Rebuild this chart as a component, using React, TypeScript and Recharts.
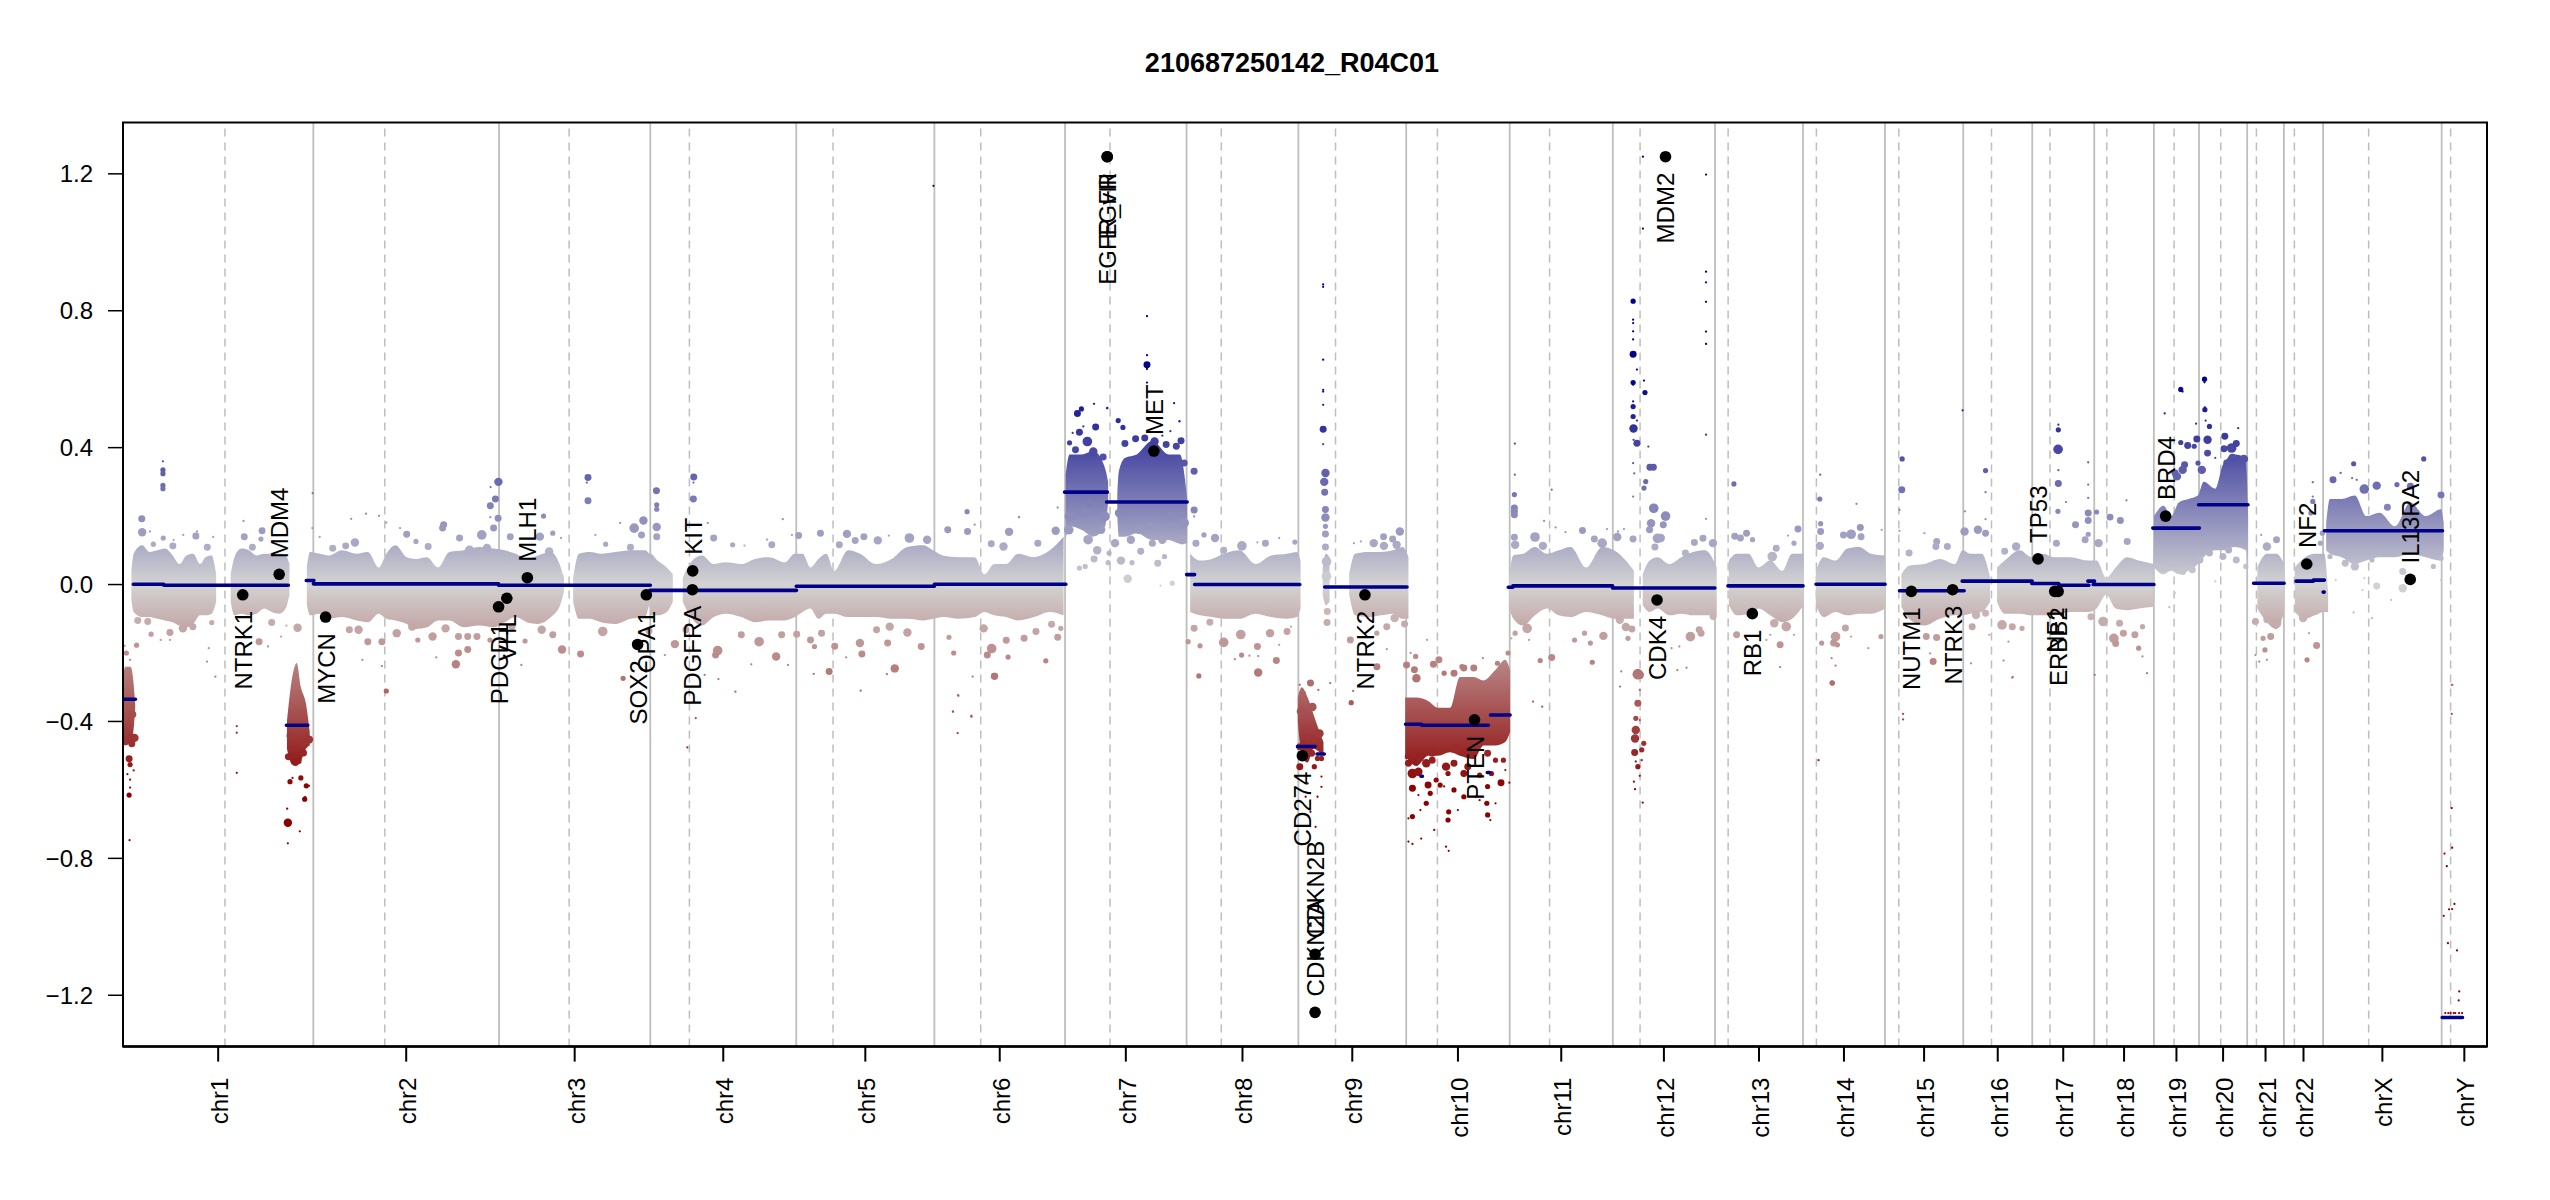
import React from "react";
import {
  ComposedChart,
  Area,
  Line,
  Scatter,
  XAxis,
  YAxis,
  ZAxis,
  ReferenceLine,
  ReferenceArea,
} from "recharts";

const FONT = '"Liberation Sans", Arial, sans-serif';

const title = "210687250142_R04C01";
const yTicks = [-1.2, -0.8, -0.4, 0, 0.4, 0.8, 1.2];

const chrNames = ["chr1","chr2","chr3","chr4","chr5","chr6","chr7","chr8","chr9","chr10","chr11","chr12","chr13","chr14","chr15","chr16","chr17","chr18","chr19","chr20","chr21","chr22","chrX","chrY"];
// chromosome sizes and centromeres, Mb, genome coordinates
const chrLengths = [249.25,243.2,198.02,191.13,180.92,171.11,159.14,146.36,141.21,135.53,135.01,133.85,115.17,107.35,102.53,90.35,81.2,78.08,59.13,63.03,48.13,51.3,155.27,59.37];
const centromeres = [133.5,342.8,584.2,741.7,929.8,1123.2,1292.5,1438.2,1587.8,1721.2,1868.1,1986.6,2101.9,2217.5,2325.4,2446.8,2523.4,2597.8,2685.9,2747,2793.7,2843.4,2940.7,3048];

const geneNames = ["NTRK1","MDM4","MYCN","PDCD1","VHL","MLH1","SOX2","OPA1","PDGFRA","KIT","EGFR","EGFR_vIII","MET","CD274","CDKN2A","CDKN2B","NTRK2","PTEN","CDK4","MDM2","RB1","NUTM1","NTRK3","TP53","NF1","ERBB2","BRD4","NF2","IL13RA2"];
const genePos = [156.8,204.5,265.3,491.8,502.6,529.5,673.9,685.3,745.6,746,1288.8,1288.8,1349.9,1544.4,1561,1561,1626.3,1769.8,2008.8,2019.9,2133.6,2341.8,2395.9,2507.7,2529.6,2534,2674.8,2859.6,2995.1];
const geneLrr = [-0.03,0.03,-0.095,-0.065,-0.04,0.02,-0.175,-0.03,-0.015,0.04,1.25,1.25,0.39,-0.5,-1.25,-1.08,-0.03,-0.395,-0.045,1.25,-0.085,-0.02,-0.015,0.075,-0.02,-0.02,0.2,0.06,0.015];

// segments: start, end, mean log2 ratio
const segments = [
  [0,16.4,-0.335],[13.5,53.4,0.001],[53.4,216.5,-0.002],[214,242,-0.411],[240,250,0.012],
  [249.3,491.8,0.002],[491.8,690.5,-0.002],[690,882,-0.017],[881.6,1062.5,-0.005],[1062.5,1234.7,0.001],
  [1233,1289,0.27],[1288,1393.5,0.241],[1392.8,1403.3,0.029],[1403.3,1541,0],
  [1538,1561,-0.473],[1563.6,1573,-0.495],[1573.6,1681.4,-0.007],
  [1679.5,1700.6,-0.408],[1700.6,1788,-0.411],[1790.7,1816.4,-0.381],[1699.6,1701.6,-0.56],[1786.5,1789.5,-0.549],
  [1814,1820,-0.008],[1820,1950.6,-0.004],[1950.6,2084.6,-0.01],[2101.7,2200,-0.004],[2217,2307.5,0.001],
  [2326.3,2411,-0.018],[2408.4,2500,0.01],[2499.6,2534.8,0.003],[2534.8,2574.4,-0.002],[2573,2581.7,0.01],[2580,2659.5,0],
  [2658,2719,0.165],[2718,2782.6,0.233],[2790,2830,0.004],[2845.6,2868.3,0.01],[2868.3,2882.7,0.013],[2881,2882.5,-0.022],
  [2882.7,3037.4,0.157],[3037,3063.6,-1.265],
];

// dense part of the probe cloud: position, lower edge, upper edge; null = no probes
const cloudChr1to3 = [
  [0,-0.43,-0.27],[3,-0.47,-0.24],[6,-0.45,-0.24],[10,-0.46,-0.24],[13,-0.44,-0.27],[16,-0.36,-0.35],null,
  [11,-0.045,0.04],[14,-0.08,0.09],[25,-0.095,0.115],[35,-0.095,0.095],[45,-0.1,0.1],[55,-0.105,0.105],[65,-0.11,0.085],[74,-0.12,0.06],[83,-0.125,0.085],[92,-0.115,0.09],[101,-0.09,0.06],[108,-0.09,0.08],[116,-0.085,0.085],[122,-0.05,0.03],null,
  [141,-0.05,0.03],[146,-0.09,0.08],[155,-0.085,0.105],[165,-0.09,0.1],[175,-0.085,0.085],[185,-0.07,0.09],[195,-0.08,0.09],[205,-0.085,0.09],[213,-0.07,0.085],[218,-0.03,0.06],null,
  [214.7,-0.48,-0.4],[221.8,-0.526,-0.268],[227.5,-0.526,-0.229],[233,-0.515,-0.3],[239.5,-0.48,-0.347],[244.5,-0.47,-0.43],null,
  [240.7,-0.06,0.05],[245,-0.09,0.095],[257.6,-0.085,0.09],[269.8,-0.1,0.085],[286.7,-0.095,0.1],[306,-0.105,0.09],[320.6,-0.11,0.095],[335,-0.085,0.05],[344.8,-0.1,0.09],[357,-0.105,0.115],[371.5,-0.115,0.08],[383.6,-0.13,0.075],[398,-0.125,0.08],[412.7,-0.105,0.05],[427.2,-0.105,0.095],[446.6,-0.125,0.1],[466,-0.12,0.11],[485.3,-0.125,0.105],
  [499.9,-0.11,0.1],[514.4,-0.095,0.09],[529,-0.11,0.075],[543.4,-0.115,0.085],[560.4,-0.095,0.095],[572.5,-0.06,0.055],[577.4,-0.02,0.02],null,
  [589.5,-0.05,0.02],[597,-0.1,0.09],[611.3,-0.1,0.095],[626,-0.11,0.09],[645,-0.115,0.095],[664.5,-0.1,0.1],[683.9,-0.095,0.1],[690,-0.06,0.09],
];
const cloudChr4to8 = [
  [691,-0.09,0.09],[700,-0.09,0.07],[712,-0.08,0.05],[720,-0.05,0.03],null,
  [733,-0.05,0.02],[742,-0.09,0.06],[758,-0.12,0.085],[773.5,-0.095,0.06],[789,-0.085,0.065],[809.7,-0.095,0.06],[827.8,-0.11,0.075],[846,-0.105,0.08],[866.7,-0.105,0.065],[879.6,-0.095,0.09],[890,-0.08,0.09],[900,-0.07,0.05],[910.7,-0.1,0.075],[921,-0.085,0.09],[931.4,-0.085,0.04],[949.5,-0.095,0.1],[965,-0.095,0.09],[985.8,-0.095,0.06],[1006.5,-0.1,0.075],[1027,-0.1,0.11],[1048,-0.105,0.115],[1060.8,-0.1,0.1],[1073.8,-0.095,0.085],[1094.5,-0.1,0.08],[1115.2,-0.095,0.08],[1128,-0.08,0.03],[1141,-0.09,0.06],[1156.6,-0.095,0.06],[1172,-0.105,0.09],[1192.9,-0.095,0.08],[1213.6,-0.08,0.1],[1231.7,-0.09,0.14],null,
  [1234.3,0.13,0.32],[1239.5,0.17,0.38],[1255,0.16,0.38],[1270.6,0.14,0.39],[1286,0.17,0.34],[1290,0.24,0.3],null,
  [1302,0.2,0.26],[1304,0.14,0.33],[1312,0.14,0.37],[1327.5,0.15,0.38],[1348,0.13,0.42],[1369,0.13,0.38],[1384,0.12,0.38],[1393.5,0.12,0.25],null,
  [1397.4,-0.08,0.09],[1410.4,-0.09,0.07],[1425.9,-0.095,0.075],[1441.4,-0.1,0.09],[1462,-0.1,0.1],[1482.9,-0.085,0.06],[1503.6,-0.095,0.085],[1524.3,-0.1,0.09],[1537,-0.095,0.095],[1542,-0.07,0.07],null,
];
const cloudChr9to14 = [
  [1538.4,-0.4,-0.33],[1543.5,-0.5,-0.3],[1551.3,-0.52,-0.33],[1559,-0.48,-0.38],[1566.8,-0.49,-0.43],[1572,-0.5,-0.46],null,
  [1571,-0.03,0.05],[1575,-0.06,0.09],[1580,-0.05,0.08],null,
  [1605.7,-0.03,0.03],[1613.4,-0.09,0.09],[1631.6,-0.095,0.095],[1647,-0.09,0.095],[1662.6,-0.085,0.1],[1675.6,-0.1,0.11],[1683.3,-0.1,0.08],null,
  [1679,-0.5,-0.33],[1693.7,-0.53,-0.33],[1709,-0.5,-0.34],[1722,-0.5,-0.36],[1737.7,-0.49,-0.36],[1750.7,-0.5,-0.27],[1768.8,-0.51,-0.27],[1781.7,-0.47,-0.28],[1797,-0.47,-0.25],[1810,-0.46,-0.22],[1816.4,-0.43,-0.25],null,
  [1815.4,-0.07,0.03],[1820.6,-0.1,0.085],[1833.5,-0.12,0.09],[1849,-0.09,0.11],[1864.6,-0.07,0.09],[1880,-0.09,0.1],[1895.6,-0.095,0.11],[1916,-0.08,0.05],[1937,-0.09,0.11],[1952.6,-0.1,0.1],[1968,-0.1,0.07],[1978.5,-0.1,0.04],null,
  [1990,-0.06,0.03],[1999,-0.08,0.07],[2009.5,-0.07,0.08],[2025,-0.09,0.06],[2040.6,-0.085,0.08],[2056,-0.09,0.095],[2071.7,-0.09,0.1],[2087,-0.09,0.05],null,
  [2102.8,-0.06,0.07],[2113,-0.09,0.09],[2128.7,-0.085,0.09],[2141.6,-0.07,0.05],[2157,-0.09,0.07],[2172.7,-0.11,0.04],[2185.6,-0.1,0.09],[2201,-0.06,0.09],null,
  [2216.7,-0.06,0.04],[2227,-0.095,0.08],[2242.6,-0.08,0.07],[2258,-0.09,0.105],[2273.6,-0.085,0.11],[2289,-0.085,0.09],[2307.3,-0.07,0.085],null,
];
const cloudChr15toX = [
  [2328.8,-0.065,0.03],[2338.9,-0.1,0.055],[2358.9,-0.12,0.06],[2379,-0.1,0.075],[2399,-0.09,0.06],[2409,-0.09,0.1],[2419,-0.085,0.09],[2434,-0.08,0.09],[2445,-0.05,0.02],null,
  [2454,-0.05,0.05],[2464,-0.085,0.07],[2484,-0.085,0.1],[2499,-0.09,0.08],[2514,-0.09,0.09],[2529,-0.09,0.08],[2549.3,-0.08,0.08],[2574.4,-0.08,0.07],[2584.4,-0.07,0.07],[2597,-0.03,0.02],[2609.4,-0.07,0.05],[2624.5,-0.075,0.08],[2639.5,-0.07,0.07],[2659,-0.065,0.06],null,
  [2659.6,0.05,0.2],[2672,0.03,0.23],[2682,0.04,0.2],[2692,0.03,0.24],[2704.7,0.04,0.25],[2717,0.06,0.26],[2724.7,0.08,0.3],[2739.8,0.1,0.28],[2749.8,0.1,0.35],[2764.8,0.11,0.38],[2779.8,0.1,0.37],[2782.8,0.06,0.2],null,
  [2794.9,-0.07,0.05],[2807.4,-0.11,0.09],[2820,-0.13,0.09],[2830,-0.08,0.06],null,
  [2844,-0.08,0.05],[2857.5,-0.1,0.08],[2870,-0.09,0.09],[2882.5,-0.08,0.09],[2887.6,-0.08,-0.02],null,
  [2885,0.1,0.18],[2890,0.09,0.25],[2905,0.08,0.25],[2922.6,0.06,0.26],[2937.6,0.07,0.2],[2955,0.08,0.21],[2975,0.08,0.17],[2995.3,0.09,0.24],[3015.3,0.08,0.2],[3035.4,0.07,0.22],[3039,0.1,0.18],
];

// single probe bins outside the dense part: position, log2 ratio, bin weight
const probesChr1to3 = [
  [52.3,0.36,1],[52.3,0.335,1.5],[52.3,0.324,1.5],[52.3,0.29,1.5],[52.3,0.28,1.5],[24.6,0.192,2],[25.1,0.153,2.5],[35.3,0.155,1],[52.7,0.136,1.5],[39.7,0.118,1.5],[65.3,0.113,2],[66.3,0.13,1],[78.9,0.145,1],[95.4,0.142,2],[96.8,0.155,1],[110.4,0.109,2],[118.1,0.139,1],[157.9,0.186,1],[158.8,0.14,2],[169.5,0.109,2],[182.1,0.157,2],[180.6,0.133,1.5],
  [19.3,-0.105,2],[32.4,-0.108,2],[36.8,-0.145,1.5],[61.5,-0.14,2],[78.4,-0.128,2.5],[91.5,-0.123,2],[116.2,-0.111,1.5],[49.4,-0.162,1],[61.5,-0.162,1],[110,-0.225,1],[121,-0.269,1],[112.3,-0.186,1],[149,-0.414,1],[149,-0.433,1],[149,-0.55,1],[178.2,-0.167,2],[194.7,-0.111,2],[189.8,-0.181,1],[228.6,-0.126,2.5],[214,-0.12,1],[207,-0.152,1],
  [2.2,-0.179,1],[17.8,-0.177,1.5],[4.4,-0.2,1.5],[9.3,-0.22,1],[15,-0.448,2.5],[9.3,-0.448,2.5],[11.5,-0.465,2],[8,-0.509,2],[9.3,-0.526,1.5],[5.8,-0.554,1],[9.3,-0.57,1],[9.3,-0.593,1],[8,-0.615,1.5],[14,-0.543,1],[8.6,-0.747,1],[3.6,-0.459,2],[12.9,-0.38,2],
  [215.9,-0.696,2.5],[215,-0.655,1],[231.5,-0.721,1],[215.9,-0.756,1],[240,-0.588,1.5],[237.9,-0.627,1.5],[238.6,-0.621,1],[243.5,-0.588,1],[218.7,-0.576,1.5],[232.9,-0.565,1.5],[222,-0.565,1],[225.8,-0.52,2],[229.4,-0.515,2],[236.4,-0.492,2],[216.6,-0.503,2],[222,-0.481,2],[243.5,-0.453,2.5],[236.4,-0.459,2],[218.7,-0.442,2],
  [248.4,0.267,1],[257.6,0.139,1],[248,0.165,1],[274.6,0.106,2],[291.6,0.113,2],[303.7,0.123,2.5],[298.8,0.192,1],[318.2,0.207,1],[335.2,0.201,1],[344.8,0.181,1],[371.5,0.147,2],[362.8,0.165,1],[383.6,0.126,1.5],[399.6,0.111,2],[419.9,0.175,2],[418.5,0.165,2],[440.7,0.136,2],[453.8,0.1,3],[469.8,0.145,3],[491.6,0.3,2.5],[481.4,0.285,1],[487.7,0.25,2],[481,0.23,2],[481,0.197,1],[491.2,0.194,2],[485.3,0.165,2],[476.6,0.107,2.5],
  [507.1,0.14,2],[550.7,0.2,1.5],[545.9,0.14,2.5],[562.8,0.15,1.5],[573.5,0.136,1],[558,0.097,2.5],[608.9,0.313,2],[607.4,0.298,1],[608.9,0.245,2],[669.4,0.165,3],[681.5,0.187,2.5],[679,0.145,2],[664.5,0.109,2],[651,0.18,1],[632,0.118,1.5],[618.5,0.145,1],
  [296.4,-0.132,2],[308.5,-0.132,2.5],[320.6,-0.167,2],[339,-0.167,2],[313.4,-0.22,1],[339,-0.238,1],[344.8,-0.311,1.5],[358.4,-0.142,2.5],[378.7,-0.123,2.5],[386,-0.162,1.5],[405.4,-0.152,2.5],[422.4,-0.128,2.5],[439.3,-0.152,2],[451.4,-0.152,2],[439.3,-0.2,2],[451.4,-0.19,2],[435.9,-0.233,2.5],[410.2,-0.213,1],[463.5,-0.152,2],
  [526.5,-0.165,1.5],[521.6,-0.235,1],[480.5,-0.162,1.5],[509.5,-0.123,2],[548.3,-0.132,2.5],[562.8,-0.147,2],[574.9,-0.19,2.5],[599.2,-0.203,2],[628.2,-0.137,3],[654.9,-0.274,1.5],[688.8,-0.135,2],
];
const probesChr4to8 = [
  [698.5,0.274,2],[698.9,0.233,1.5],[698.9,0.22,1.5],[698.9,0.168,2.5],[698.9,0.14,2],[747.4,0.314,2],[747,0.298,1],[746.9,0.25,2],[750,-0.39,1],[739,-0.476,1],[709.6,-0.206,1],[722.7,-0.174,2.5],[737.2,-0.132,2],
  [773.5,0.136,2],[765.7,0.18,1],[798.3,0.116,1.5],[813.8,0.114,1],[843.4,0.131,1],[849.6,0.116,2],[864,0.191,1],[884.8,0.143,2],[876,0.145,1],[913.3,0.15,2],[948,0.148,2.5],[970.2,0.14,2],[958.8,0.129,2],[938,0.116,2],[1002.8,0.143,1],[988.4,0.129,2.5],[1029.8,0.136,3],[1053,0.131,2.5],[1080,0.16,2],[1105.9,0.214,1],[1115.2,0.175,1],[1105.9,0.155,2],[1160.3,0.154,2.5],[1173.2,0.197,1],[1137,0.119,2],[1153,0.111,2.5],[1198,0.121,2],[1221.4,0.157,2.5],[1224,0.225,1],
  [1249.8,0.5,2],[1255,0.513,1.5],[1271.6,0.528,1],[1288.7,0.515,1],[1273.7,0.46,2],[1252.4,0.445,2],[1243.6,0.443,1],[1257.6,0.462,1],[1262.8,0.418,3],[1239.5,0.414,1.5],[1247.3,0.394,2],[1270.6,0.389,2.5],[1283.5,0.373,2],[1303.2,0.479,1.5],[1309.4,0.459,1.5],[1312,0.412,2],[1326,0.426,2],[1338,0.428,2],[1350.8,0.418,2.5],[1361,0.435,1],[1371.5,0.448,1],[1383.4,0.477,1],[1366,0.409,2],[1379.3,0.404,2],[1385.5,0.42,2],[1402.6,0.331,2],[1402.6,0.218,2],[1402.6,0.199,1],[1389.6,0.355,2],[1340.9,0.784,1],[1340.9,0.67,1],[1340.9,0.642,2],[1340.9,0.63,1],[1340.9,0.59,1],[1376.4,0.53,1],[1303.3,0.478,1],[1310.5,0.46,1],[1289,0.516,1],[1383.5,0.477,1],
  [1263.8,0.131,3],[1286,0.199,3],[1275.7,0.1,2.5],[1271.6,0.075,2],[1290,0.064,1.5],[1306.8,0.07,2.5],[1321.3,0.064,1.5],[1315.6,0.017,2.5],[1332.7,0.097,2],[1355,0.062,2],[1363.8,0.082,1.5],[1260,0.053,1.5],[1252.4,0.048,1.5],[1291.3,0.092,1.5],[1374,0.004,1.5],[1358.6,-0.003,1],[1299,0.121,2.5],[1319.8,0.131,2.5],[1361,0.131,2.5],[1387,0.131,3],[1348,0.121,2],[1330,0.16,2.5],[1345.6,0.17,2],[1371.5,0.199,2.5],[1389.6,0.18,3],[1304.3,0.209,2.5],[1280.9,0.16,2.5],[1260.2,0.209,2.5],[1239.5,0.199,3],[1238.4,0.16,3],[1265.3,0.238,2.5],
  [1430,0.136,2.5],[1415.5,0.145,1.5],[1465.2,0.113,3],[1485.5,0.123,1],[1496,0.121,2],[1514,0.136,1],[1534.6,0.124,1.5],[1405,0.121,2],[1441.4,0.1,2],
  [778.7,-0.193,3],[776,-0.206,2],[833,-0.167,3],[855.3,-0.21,2.5],[822.7,-0.233,1],[870.8,-0.235,1],[802,-0.313,1],[779.7,-0.276,1],[761.6,-0.264,1],[809.7,-0.147,2],[862.5,-0.147,2],[882.2,-0.145,2],[900.3,-0.162,2],[905.5,-0.181,1.5],[914.8,-0.142,2],[932,-0.18,2],[924.7,-0.254,2],[904.5,-0.261,1],[965,-0.171,2.5],[967.6,-0.203,2],[966,-0.31,1],[946.9,-0.213,1],[1001.3,-0.171,2],[1010.6,-0.245,2.5],[1000.3,-0.262,1],[1004,-0.123,2.5],[986.8,-0.132,2],[1027.2,-0.14,2.5],[1045.3,-0.181,2],[1081.6,-0.154,1.5],[1087.8,-0.2,1.5],[1093.5,-0.323,1],[1086.7,-0.371,1],[1111,-0.386,1],[1112.6,-0.269,1],[1127,-0.128,2.5],[1137.5,-0.187,3],[1131.8,-0.206,2],[1141,-0.268,2],[1156.6,-0.163,2],[1180,-0.157,2],[1159,-0.212,1.5],[1208.4,-0.223,1.5],[1195.5,-0.137,2],[1224,-0.154,2],[1216,-0.116,2],[1228,-0.128,1.5],
  [1094,-0.325,1],[1087,-0.371,1],[1111,-0.384,1],[1093,-0.434,1],[1141.5,-0.268,2],[1061.3,1.165,1],[1105.3,0.213,1.5],[1173.4,0.197,1],
  [1394.8,-0.167,1.5],[1410.4,-0.179,1.5],[1408.8,-0.267,1.5],[1402.6,-0.128,2],[1423.3,-0.11,2],[1441.4,-0.169,3],[1463.7,-0.146,3],[1464.8,-0.206,1.5],[1456,-0.218,1],[1485.5,-0.181,2],[1502,-0.142,2.5],[1486.5,-0.257,2.5],[1510.3,-0.222,2],[1524.3,-0.137,2],[1514,-0.176,1],[1529.5,-0.123,1],[1475,-0.208,1],[1486.5,-0.209,1],
];
const probesChr9to10 = [
  [1571.6,0.877,1],[1571.6,0.87,1],[1571.6,0.657,1],[1571.6,0.569,1],[1571.6,0.564,1],[1571.6,0.525,1],[1571.6,0.454,2],[1571.6,0.41,1],[1574.6,0.326,2.5],[1573,0.3,2.5],[1573.6,0.27,2],[1574.6,0.219,2],[1574.6,0.196,2.5],[1574.6,0.17,1.5],[1574.6,0.148,2],[1574.6,0.11,2],[1576,0.067,3],[1576,0.024,3],[1577,-0.079,2],[1576.7,-0.111,2],
  [1607.2,-0.162,2],[1608.3,-0.345,1.5],[1580.8,-0.288,1],[1610.9,-0.311,1],[1611.9,0.121,1],[1621,0.126,1],[1637.8,0.121,2.5],[1650.7,0.14,2],[1651.2,0.113,2.5],[1662.6,0.133,2],[1672,0.155,2.5],[1667.8,0.116,2.5],[1642,-0.24,2],[1654.9,-0.189,1],[1654.9,-0.123,2],[1665.2,-0.098,2.5],[1678.2,-0.115,2],[1641.9,-0.142,1.5],
  [1555,-0.288,2],[1541,-0.293,1],[1544.6,-0.32,2],[1565.3,-0.308,1],[1557.5,-0.358,2.5],[1542.5,-0.371,2.5],[1566.8,-0.435,2.5],[1551.3,-0.444,2],[1553.9,-0.425,2],[1541,-0.474,2],[1559,-0.454,2],[1564.2,-0.508,1.5],[1569.4,-0.508,1.5],[1569.4,-0.561,1],[1560,-0.532,1.5],[1564.2,-0.62,1],[1569.4,-0.591,1],[1551.3,-0.581,1],[1555,-0.664,1],[1561.7,-0.708,1],[1548.7,-0.62,1],[1541,-0.532,2],[1556.5,-0.493,2],
  [1707.7,-0.162,1],[1716,-0.233,2],[1723.2,-0.22,2],[1692.7,-0.21,1.5],[1686,-0.2,1],[1680.8,-0.235,2],[1691.1,-0.249,2],[1693.7,-0.274,2.5],[1730,-0.259,1.5],[1743,-0.259,2],[1755.8,-0.244,2],[1768.8,-0.244,2],[1780.7,-0.215,1],[1799.8,-0.23,1.5],[1813.8,-0.2,1.5],[1810.2,-0.235,1],[1753.3,-0.24,1.5],
  [1681.8,-0.503,1.5],[1688.5,-0.552,3],[1696.3,-0.547,2.5],[1683.3,-0.522,2],[1706.6,-0.522,2.5],[1714.4,-0.513,2],[1732.5,-0.532,2.5],[1755.8,-0.552,2],[1776.5,-0.557,1.5],[1804.5,-0.579,2],[1792,-0.552,1.5],[1815.4,-0.579,1],[1742.9,-0.522,2],[1709,-0.586,2],[1688.5,-0.595,2],[1724.8,-0.586,1.5],[1742.9,-0.6,1.5],[1696.3,-0.615,1],[1711.8,-0.61,1.5],[1706.6,-0.639,1.5],[1698.9,-0.659,1],[1688.5,-0.678,1.5],[1683.3,-0.683,1],[1736,-0.664,1.5],[1735.1,-0.688,1.5],[1748,-0.659,1],[1787,-0.673,1.5],[1790.5,-0.688,1],[1785.9,-0.639,1.5],[1797.3,-0.639,1],[1717,-0.717,1],[1700,-0.742,1],[1683.3,-0.751,1],[1688.5,-0.758,1],[1732.5,-0.766,1],[1736,-0.778,1],[1776.5,-0.63,1],[1755.8,-0.62,1.5],[1771.4,-0.62,1],[1719.6,-0.571,1.5],[1730,-0.59,1],[1786.9,-0.59,1.5],[1810.2,-0.542,1],[1807.6,-0.513,1.5],[1797.3,-0.513,1.5],[1735.1,-0.552,1.5],[1761,-0.532,2],[1698.9,-0.503,2.5],[1714.4,-0.493,2],[1745.5,-0.478,2],[1786.9,-0.493,2],
];
const probesChr11to14 = [
  [1822.6,0.412,1],[1822.6,0.321,1],[1822,0.263,1.5],[1822,0.224,2],[1822,0.214,2],[1822,0.204,2],[1822,0.138,2],[1823,0.116,2.5],[1870.8,0.277,1],[1860.9,0.186,1],[1876,0.167,1],[1849,0.139,3],[1859.4,0.113,2.5],[1911.2,0.158,2],[1888.9,0.153,1],[1926.7,0.133,2],[1943.3,0.162,1],[1957.7,0.155,1],[1965.5,0.162,1],[1956.7,0.139,2.5],[1977.4,0.133,2],[1937,0.121,3],
  [1990.3,1.25,1],[1990.3,1.04,1],[1977.5,0.828,1.5],[1977.5,0.774,1],[1977.5,0.764,1],[1977.5,0.74,1],[1977.5,0.716,1],[1977.5,0.673,2],[1982.5,0.628,1],[1977.5,0.59,1.5],[1977.5,0.584,1],[1977.5,0.535,1],[1977.5,0.52,1.5],[1977.5,0.491,1.5],[1982.5,0.479,1],[1978,0.456,2.5],[1978,0.423,1],[1982.5,0.413,2],[1997.4,0.403,1],[1991.7,0.596,1],[1993,0.561,1.5],[1999.5,0.343,2],[2004,0.343,2],[1977.5,0.355,1],[1979,0.325,1],[1994,0.301,1.5],[1991.7,0.282,1.5],[1977.5,0.257,1],[2004.5,0.223,3],[2020,0.2,3],[2001,0.179,2.5],[2009.4,0.135,3],[1999,0.16,2],[2006,0.11,2],[2013.7,0.136,2.5],[2017,0.175,2],[2069,0.135,2],[2057.7,0.123,2],[2082,0.121,2.5],[2073,0.192,1],[2046,0.092,2],[2073,1.198,1],[2073,0.914,1],[2073,0.883,1],[2073,0.826,1],[2073,0.739,1],[2073,0.703,1],[2073,0.438,1],
  [1838.7,-0.128,3],[1823,-0.142,1.5],[1818,-0.157,1],[1841.3,-0.162,1],[1855.8,-0.222,1.5],[1870.8,-0.213,2],[1900.8,-0.162,1.5],[1921.5,-0.171,1.5],[1938.6,-0.15,2.5],[1913.8,-0.142,1.5],[1924,-0.227,1.5],[1968,-0.124,2.5],[1960,-0.103,2.5],[1975.9,-0.13,2],[1970.7,-0.157,1.5],[2052.5,-0.152,3],[2066.5,-0.142,2],[2019.9,-0.21,1],[2047.4,-0.243,1],[2035.4,-0.25,1],[2027.7,-0.186,1],[2038,-0.181,1],[2082.3,-0.093,2],[2064,-0.132,2],
  [1983.7,-0.262,3.5],[1986.2,-0.264,2.5],[1983.7,-0.347,2],[1986.2,-0.308,1],[1981,-0.391,1.5],[1986.2,-0.396,1],[1981,-0.425,2.5],[1980,-0.45,2.5],[1991.4,-0.464,1.5],[1988.8,-0.483,1.5],[1979.5,-0.491,2],[1983.7,-0.532,1.5],[1981,-0.517,1],[1988.8,-0.513,1],[1978.5,-0.576,1],[1986.2,-0.559,1],[1980,-0.598,1],[1990,-0.637,1],[1960.4,-0.298,1],[1962,-0.254,1],[1846.4,-0.342,1],[1858.4,-0.357,1],
  [2109.5,0.294,1.5],[2110.6,0.141,2],[2126,0.15,2],[2133.8,0.131,1.5],[2118,0.136,2],[2193.4,0.162,2],[2180.5,0.143,1],[2164.9,0.106,2],[2188.2,0.121,1.5],[2159.7,0.082,3],[2170,-0.176,2],[2178,-0.123,3],[2162.3,-0.113,2.5],[2113,-0.147,2],[2170,-0.241,1],[2188.2,-0.147,1],[2152,-0.162,1],[2144,-0.142,1],[2157,-0.147,1],
  [2221.9,0.25,1.5],[2222.5,0.321,1],[2223,0.178,1.5],[2223,0.155,2],[2222,0.113,2.5],[2270,0.236,1],[2275,0.167,2],[2263,0.147,3],[2253,0.145,2],[2303,0.16,1],[2276,0.14,2],
  [2238.4,-0.288,1.5],[2242.6,-0.152,3],[2240,-0.171,2],[2237.4,-0.215,1],[2242.6,-0.237,1],[2220.3,-0.513,1],[2224.4,-0.171,1.5],[2245,-0.176,1.5],[2285.5,-0.186,1],[2302,-0.152,1.5],[2263,-0.152,1],[2255.5,-0.127,2],
];
const probesChr15toY = [
  [2329.8,0.367,1.5],[2329.3,0.277,2],[2326.3,0.218,1],[2326.3,0.157,1],[2358.9,0.15,1],[2375,0.126,2],[2338.9,0.092,2],[2389,0.111,2],[2374,0.111,2],[2409,0.509,1],[2412,0.214,1],[2411.5,0.155,2.5],[2429,0.16,2.5],[2439,0.15,2],[2439,0.333,1.5],[2439,0.27,1],[2439,0.191,1],[2479,0.111,2.5],[2464,0.097,2],
  [2534.3,0.467,1],[2534.3,0.452,1.5],[2534,0.395,3],[2534.3,0.334,1],[2534.3,0.295,2],[2544.3,0.241,1],[2533.8,0.214,1.5],[2556.8,0.175,2],[2573.4,0.357,1],[2573.4,0.292,1],[2573.4,0.253,1],[2573.4,0.209,2],[2573.4,0.187,2],[2573.4,0.147,1.5],[2584.4,0.212,1.5],[2602,0.197,2],[2615.5,0.187,2],[2623.5,0.246,1],[2587,0.121,2.5],[2624.5,0.126,2],[2531.8,0.121,2],[2569.4,0.131,2],
  [2694.6,0.57,1.5],[2697,0.564,1],[2673.6,0.5,1],[2725.7,0.6,1.5],[2725.7,0.591,1],[2726.2,0.518,1],[2726.2,0.511,1.5],[2714.7,0.47,1],[2727.2,0.479,1],[2732.2,0.462,1.5],[2729.7,0.423,2.5],[2715.7,0.425,2],[2694.6,0.415,1.5],[2703.7,0.406,2],[2712.2,0.404,1.5],[2752.3,0.433,2],[2761.3,0.399,3],[2767.3,0.412,2],[2769.8,0.457,1],[2751.3,0.397,2],[2777.3,0.367,2.5],[2729.7,0.384,2],[2739.8,0.37,1],[2699.6,0.35,2],[2717.2,0.355,1.5],[2722.2,0.335,2.5],[2762.3,0.37,2.5],[2754.8,0.355,2],[2689.6,0.316,2.5],[2697.1,0.335,2.5],[2687.1,0.326,2],
  [2672,0.048,2],[2697.1,0.038,2],[2709.7,0.043,2],[2719.7,0.072,2],[2679.6,0.062,1.5],[2739.8,0.009,1],[2732.2,0.092,2],[2749.8,0.082,2],[2767.3,0.072,2],[2779.8,0.053,1.5],[2757.3,0.101,2],[2687.1,-0.025,1],[2679.6,-0.066,1],
  [2370.4,-0.225,2],[2361.4,-0.152,2],[2374.9,-0.155,2],[2366.4,-0.201,1],[2426.5,-0.089,2.5],[2421.5,-0.123,2],[2439,-0.084,2],[2460.6,-0.118,3],[2474,-0.123,2],[2486.7,-0.128,1.5],[2444,-0.147,1],[2420,-0.23,1],[2462.6,-0.222,1],[2474,-0.272,1],[2469,-0.167,1],[2331,-0.378,1],[2331,-0.394,1],[2238,-0.287,1.5],[2474.5,-0.27,1],[2592.9,-0.108,3],[2581.9,-0.264,1],[2607,-0.157,3],[2609.4,-0.172,2],[2619.5,-0.142,2],[2634.5,-0.147,2],[2644.5,-0.123,1.5],[2639.5,-0.186,1.5],[2644.5,-0.21,1],[2650.5,-0.259,1],[2614.5,-0.113,2],[2577,-0.094,2],
  [2820,-0.113,3],[2807.4,-0.103,2],[2792.4,-0.108,2],[2812.4,-0.152,2],[2802.4,-0.157,1.5],[2804.9,-0.191,1.5],[2792.4,-0.206,1],[2797.4,-0.225,1],[2807.4,-0.22,1],[2854.9,-0.098,2.5],[2872.5,-0.178,2],[2860,-0.22,1.5],[2862.5,-0.142,1],[2820,0.131,2],[2807.4,0.111,2.5],[2799.9,0.145,1],
  [2867.5,0.299,1],[2867.5,0.257,1],[2867.5,0.243,1.5],[2865,0.209,1.5],[2880,0.15,1.5],[2877.5,0.121,1.5],
  [2894,0.306,2],[2921,0.353,1.5],[2904,0.326,1],[2951.2,0.289,2.5],[2935,0.279,3],[3012.8,0.367,1.5],[2977.7,0.292,1.5],[2995.3,0.287,2],[3035.4,0.262,2],[2919,0.311,1],[2925,0.306,1],[2965.2,0.226,2],[2890,0.082,1.5],[2910,0.062,2],[2922.6,0.053,2.5],[2951.2,-0.004,2],[2985.3,-0.011,2.5],[2985.3,0.038,2],[2945,0.072,1.5],[2935,0.019,1],[2897.5,0.014,1],[2932.6,-0.016,1],[2970,-0.045,1],[3035.4,0.014,1],[3025.4,0.053,1.5],[3035.4,0.077,1.5],[2921,-0.081,1],[2945,-0.098,1],[3050.4,-0.293,1],
  [3049.4,-0.293,1],[3049.4,-0.378,1],[3049.4,-0.653,1],[3050,-0.769,1],[3040,-0.786,1],[3043,-0.823,1],[3053,-0.933,1],[3050,-0.948,1],[3046,-0.949,1],[3039,-0.968,1],[3044.5,-1.048,1],[3056.4,-1.069,1],[3059.3,-1.189,1],[3058.6,-1.215,1],[3041,-1.252,1],[3045,-1.252,1],[3048,-1.252,1],[3052,-1.252,1],[3054,-1.252,1],[3059,-1.252,1],[3063,-1.252,1],
];

const GREY = [211, 211, 211];
const BLUE = [0, 0, 139];
const RED = [139, 0, 0];

function lrrColor(v: number) {
  const t = Math.min(Math.abs(v) / 0.6, 1);
  const end = v >= 0 ? BLUE : RED;
  const c = GREY.map((g, i) => Math.round(g + (end[i] - g) * t));
  return `rgb(${c[0]},${c[1]},${c[2]})`;
}

const chrStarts = chrLengths.map((_, i) => chrLengths.slice(0, i).reduce((a, b) => a + b, 0));
const genomeEnd = chrLengths.reduce((a, b) => a + b, 0);
const chrMids = chrStarts.map((s, i) => s + chrLengths[i] / 2);

const cloudRows = [...cloudChr1to3, ...cloudChr4to8, ...cloudChr9to14, ...cloudChr15toX];
const cloudBand = cloudRows.map((r, i) =>
  r ? { x: r[0], band: [r[1], r[2]] } : { x: (cloudRows[i - 1] as number[])[0], band: [null, null] }
);
const cloudTop = Math.max(...cloudRows.filter(Boolean).map((r) => (r as number[])[2]));
const cloudBottom = Math.min(...cloudRows.filter(Boolean).map((r) => (r as number[])[1]));

const probes = [...probesChr1to3, ...probesChr4to8, ...probesChr9to10, ...probesChr11to14, ...probesChr15toY].map((p) => ({
  x: p[0],
  y: p[1],
  z: p[2],
}));
const segmentLine = segments.flatMap((s) => [
  { x: s[0], y: s[2] },
  { x: s[1], y: s[2] },
  { x: s[1], y: null },
]);
const genes = geneNames.map((name, i) => ({ name, x: genePos[i], y: geneLrr[i] }));

function ProbeDot({ cx, cy, size, payload }: any) {
  return <circle cx={cx} cy={cy} r={Math.sqrt(size / Math.PI)} fill={lrrColor(payload.y)} />;
}

function GeneDot({ cx, cy, payload }: any) {
  const above = (payload.y > 0 && payload.y < 1) || payload.y < -1;
  const ty = above ? cy - 16 : cy + 16;
  const tx = cx + 9;
  return (
    <g>
      <ellipse cx={cx} cy={cy} rx={5.8} ry={5.8} fill="#000" />
      <text
        x={tx}
        y={ty}
        transform={`rotate(-90 ${tx} ${ty})`}
        textAnchor={above ? "start" : "end"}
        fontFamily={FONT}
        fontSize={24}
        fill="#000"
      >
        {payload.name}
      </text>
    </g>
  );
}

function ChrTick({ x, y, index }: any) {
  const tx = x + 10;
  const ty = y + 14;
  return (
    <text x={tx} y={ty} transform={`rotate(-90 ${tx} ${ty})`} textAnchor="end" fontFamily={FONT} fontSize={24} fill="#000">
      {chrNames[index]}
    </text>
  );
}

function formatLrr(v: number) {
  return (v < 0 ? "\u2212" : "") + Math.abs(v).toFixed(1);
}

export default function App() {
  return (
    <div style={{ position: "absolute", left: 0, top: 0, width: 2550, height: 1200, background: "#fff" }}>
      <ComposedChart width={2550} height={1200} margin={{ top: 122.5, right: 63, bottom: 3.4, left: 0 }}>
        <defs>
          <linearGradient id="cloudFill" x1="0" y1="0" x2="0" y2="1">
            <stop offset={0} stopColor={lrrColor(cloudTop)} />
            <stop offset={cloudTop / (cloudTop - cloudBottom)} stopColor={lrrColor(0)} />
            <stop offset={1} stopColor={lrrColor(cloudBottom)} />
          </linearGradient>
        </defs>
        <text x={1292} y={72} textAnchor="middle" fontFamily={FONT} fontSize={27} fontWeight="bold" fill="#000">
          {title}
        </text>
        <XAxis
          type="number"
          dataKey="x"
          domain={[0, genomeEnd]}
          ticks={chrMids}
          interval={0}
          allowDataOverflow
          height={150}
          tickSize={15}
          tickLine={{ stroke: "#000", strokeWidth: 2 }}
          axisLine={{ stroke: "#000", strokeWidth: 2.5 }}
          tick={<ChrTick />}
        />
        <YAxis
          type="number"
          domain={[-1.35, 1.35]}
          ticks={yTicks}
          interval={0}
          allowDataOverflow
          width={123}
          tickSize={15}
          tickMargin={15}
          tickFormatter={formatLrr}
          tickLine={{ stroke: "#000", strokeWidth: 1.5 }}
          axisLine={{ stroke: "#000", strokeWidth: 2 }}
          tick={{ fontFamily: FONT, fontSize: 24, fill: "#000" }}
        />
        <ZAxis type="number" dataKey="z" domain={[1, 3.5]} range={[4, 90]} />
        {chrStarts.map((s) => (
          <ReferenceLine key={`b${s}`} x={s} stroke="#BEBEBE" strokeWidth={1.8} zIndex={-10} />
        ))}
        {centromeres.map((c) => (
          <ReferenceLine key={`c${c}`} x={c} stroke="#BEBEBE" strokeWidth={1.5} strokeDasharray="8 6" zIndex={-10} />
        ))}
        <Area
          data={cloudBand}
          dataKey="band"
          type="monotone"
          stroke="none"
          fill="url(#cloudFill)"
          fillOpacity={1}
          connectNulls={false}
          dot={false}
          activeDot={false}
          legendType="none"
          isAnimationActive={false}
        />
        <Scatter data={probes} dataKey="y" shape={<ProbeDot />} isAnimationActive={false} />
        <Line
          data={segmentLine}
          dataKey="y"
          stroke="#00008B"
          strokeWidth={3.6}
          strokeLinecap="round"
          dot={false}
          activeDot={false}
          connectNulls={false}
          isAnimationActive={false}
          zIndex={700}
        />
        <Scatter data={genes} dataKey="y" shape={<GeneDot />} isAnimationActive={false} zIndex={800} />
        <ReferenceArea
          x1={0}
          x2={genomeEnd}
          y1={-1.35}
          y2={1.35}
          fill="none"
          stroke="#000"
          strokeWidth={2}
          zIndex={900}
        />
      </ComposedChart>
    </div>
  );
}
